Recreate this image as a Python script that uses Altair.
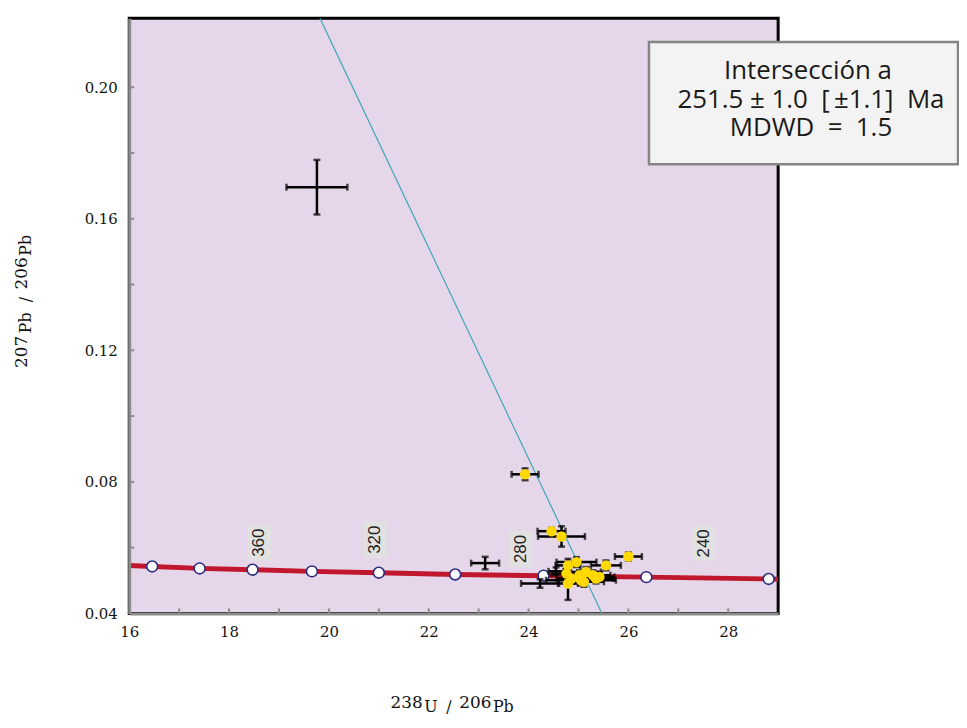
import altair as alt
import pandas as pd

# ---------------- data ----------------
# concordia curve (238U/206Pb, 207Pb/206Pb)
conc_x = [16.0, 16.46, 17.41, 18.47, 19.66, 21.00, 22.53, 24.30, 26.36, 28.81, 29.0]
conc_y = [0.0546, 0.05429, 0.05369, 0.05329, 0.05278, 0.05239, 0.05184, 0.05148, 0.05103, 0.05048, 0.0504]

# age markers on the concordia (380 ... 220 Ma, every 20 Ma)
age_x = [16.46, 17.41, 18.47, 19.66, 21.00, 22.53, 24.30, 26.36, 28.81]
age_y = [0.05429, 0.05369, 0.05329, 0.05278, 0.05239, 0.05184, 0.05148, 0.05103, 0.05048]

# age labels
lab_text = ["360", "320", "280", "240"]
lab_x = [18.60, 20.92, 23.84, 27.52]
lab_y = [0.0615, 0.0624, 0.0596, 0.0613]

# discordia (regression) line
disc_x = [19.82, 25.47]
disc_y = [0.221, 0.04]

# analyses
pt_x = [23.93, 24.46, 24.66, 26.00, 24.79, 24.96, 24.76, 24.79, 25.02, 25.15, 25.29,
        25.42, 25.55, 25.05, 25.35, 24.86, 25.11,
        19.76, 23.13, 24.23, 24.55]
pt_y = [0.0823, 0.0650, 0.0634, 0.0573, 0.0546, 0.0556, 0.0521, 0.0491, 0.0516, 0.0526, 0.0516,
        0.0511, 0.0546, 0.0501, 0.0506, 0.0506, 0.0496,
        0.1696, 0.0553, 0.0491, 0.0528]
pt_xerr = [0.27, 0.28, 0.47, 0.27, 0.25, 0.40, 0.30, 0.20, 0.35, 0.30, 0.35,
           0.30, 0.30, 0.70, 0.35, 0.30, 0.40,
           0.61, 0.28, 0.38, 0.15]
pt_yerr = [0.0018, 0.0010, 0.0031, 0.0012, 0.0020, 0.0015, 0.0015, 0.0050, 0.0015, 0.0015, 0.0015,
           0.0015, 0.0015, 0.0015, 0.0015, 0.0015, 0.0015,
           0.0083, 0.0019, 0.0013, 0.0012]
pt_used = [True] * 17 + [False] * 4

x_ticks = list(range(17, 29))
y_ticks = [0.06, 0.08, 0.10, 0.12, 0.14, 0.16, 0.18, 0.20]
x_labels = [16, 18, 20, 22, 24, 26, 28]
y_labels = [0.04, 0.08, 0.12, 0.16, 0.20]

box_lines = ["Intersección a",
             "251.5 ± 1.0\u00a0\u00a0[\u2009±1.1]\u00a0\u00a0Ma",
             "MDWD\u00a0\u00a0=\u00a0\u00a01.5"]

# ---------------- tables ----------------
conc = pd.DataFrame({"x": conc_x, "y": conc_y})
ages = pd.DataFrame({"x": age_x, "y": age_y})
labs = pd.DataFrame({"x": lab_x, "y": lab_y, "t": lab_text})
disc = pd.DataFrame({"x": disc_x, "y": disc_y})
pts = pd.DataFrame({"x": pt_x, "y": pt_y, "xe": pt_xerr, "ye": pt_yerr, "used": pt_used})
pts["xlo"] = pts.x - pts.xe
pts["xhi"] = pts.x + pts.xe
pts["ylo"] = pts.y - pts.ye
pts["yhi"] = pts.y + pts.ye
used = pts[pts.used]
xt = pd.DataFrame({"v": x_ticks})
yt = pd.DataFrame({"v": y_ticks})
one = pd.DataFrame({"a": [0]})

W, H = 653, 599
OX, OY = 130, 16  # plot origin on the page
SVG_W, SVG_H = 957, 707

xs = alt.Scale(domain=[16, 29], nice=False, zero=False)
ys = alt.Scale(domain=[0.04, 0.221], nice=False, zero=False)

xaxis = alt.Axis(values=x_labels, format="d", title=None, ticks=False, grid=False,
                 domainColor="#8c8c8c", domainWidth=3, labelFont="DejaVu Serif",
                 labelFontSize=15, labelColor="#111111", labelPadding=11, zindex=1,
                 labelFlush=False, labelOverlap=False)
yaxis = alt.Axis(values=y_labels, format=".2f", title=None, ticks=False, grid=False,
                 domainColor="#8c8c8c", domainWidth=3, labelFont="DejaVu Serif",
                 labelFontSize=15, labelColor="#111111", labelPadding=12, zindex=1,
                 labelFlush=False, labelOverlap=False)


def X(f):
    return alt.X(f, type="quantitative", scale=xs, axis=xaxis)


def Y(f):
    return alt.Y(f, type="quantitative", scale=ys, axis=yaxis)


conc_line = alt.Chart(conc).mark_line(color="#c0172f", strokeWidth=5, clip=True).encode(
    x=X("x"), y=Y("y"))

disc_line = alt.Chart(disc).mark_line(color="#3fa7b8", strokeWidth=1.2, clip=True).encode(
    x=X("x"), y=Y("y"))

age_pts = alt.Chart(ages).mark_point(filled=True, fill="white", stroke="#2b2b80",
                                     strokeWidth=1.6, size=120, opacity=1).encode(
    x=X("x"), y=Y("y"))

lab_box = alt.Chart(labs).mark_rect(width=24, height=36, color="#e1e1e1").encode(
    x=X("x"), y=Y("y"))
lab_txt = alt.Chart(labs).mark_text(angle=270, font="Liberation Sans", fontSize=17,
                                    color="#222222", align="center", baseline="middle").encode(
    x=X("x"), y=Y("y"), text="t:N")

err_h = alt.Chart(pts).mark_rule(color="black", strokeWidth=2.5).encode(
    x=X("xlo"), x2="xhi", y=Y("y"))
err_v = alt.Chart(pts).mark_rule(color="black", strokeWidth=2.5).encode(
    x=X("x"), y=Y("ylo"), y2="yhi")
cap_l = alt.Chart(pts).mark_tick(orient="vertical", color="black", size=7, thickness=2.5).encode(
    x=X("xlo"), y=Y("y"))
cap_r = alt.Chart(pts).mark_tick(orient="vertical", color="black", size=7, thickness=2.5).encode(
    x=X("xhi"), y=Y("y"))
cap_b = alt.Chart(pts).mark_tick(orient="horizontal", color="black", size=7, thickness=2.5).encode(
    x=X("x"), y=Y("ylo"))
cap_t = alt.Chart(pts).mark_tick(orient="horizontal", color="black", size=7, thickness=2.5).encode(
    x=X("x"), y=Y("yhi"))

dots = alt.Chart(used).mark_circle(color="#ffd800", size=110, opacity=1).encode(
    x=X("x"), y=Y("y"))

xtick = alt.Chart(xt).mark_rule(color="#8c8c8c", strokeWidth=2).encode(
    x=X("v"), y=alt.value(H), y2=alt.value(H - 5))
ytick = alt.Chart(yt).mark_rule(color="#8c8c8c", strokeWidth=2).encode(
    y=Y("v"), x=alt.value(0), x2=alt.value(5))


def txt(s, ax, ay, size, font="DejaVu Serif", angle=0, align="left", baseline="alphabetic",
        color="#111111"):
    return alt.Chart(one).mark_text(text=s, font=font, fontSize=size, angle=angle,
                                    align=align, baseline=baseline, color=color).encode(
        x=alt.value(ax - OX), y=alt.value(ay - OY))


# x-axis title pieces: 238U / 206Pb
xt_parts = [
    txt("238", 393, 710, 17),
    txt("U", 427, 714, 16),
    txt("/", 449, 714, 16),
    txt("206", 462, 710, 17),
    txt("Pb", 496, 714, 16),
]
# y-axis title pieces (rotated): 207Pb / 206Pb
yt_parts = [
    txt("207", 27, 368, 17, angle=270),
    txt("Pb", 31, 333, 16, angle=270),
    txt("/", 31, 302, 16, angle=270),
    txt("206", 27, 289, 17, angle=270),
    txt("Pb", 31, 255, 16, angle=270),
]

box = alt.Chart(one).mark_rect(fill="#f3f3f3", stroke="#858585", strokeWidth=2.5).encode(
    x=alt.value(653 - OX), x2=alt.value(964 - OX), y=alt.value(40 - OY), y2=alt.value(163 - OY))
box_txt = [
    txt(box_lines[0], 813, 77, 26, font="Open Sans", align="center", color="#1a1a1a"),
    txt(box_lines[1], 816, 106, 26, font="Open Sans", align="center", color="#1a1a1a"),
    txt(box_lines[2], 816, 135, 26, font="Open Sans", align="center", color="#1a1a1a"),
]

chart = alt.layer(
    conc_line, disc_line, age_pts, xtick, ytick,
    err_h, err_v, cap_l, cap_r, cap_b, cap_t, dots,
    lab_box, lab_txt, box, *box_txt, *xt_parts, *yt_parts
).properties(
    width=W, height=H,
    autosize=alt.AutoSizeParams(type="none"),
    padding={"left": OX - 8, "top": OY - 8, "right": SVG_W - (OX - 8) - W,
             "bottom": SVG_H - (OY - 8) - H},
    background="white",
).configure_view(fill="#e6d6ea", stroke="black", strokeWidth=3)

chart.save("out.html", embed_options={"renderer": "svg", "actions": False})
